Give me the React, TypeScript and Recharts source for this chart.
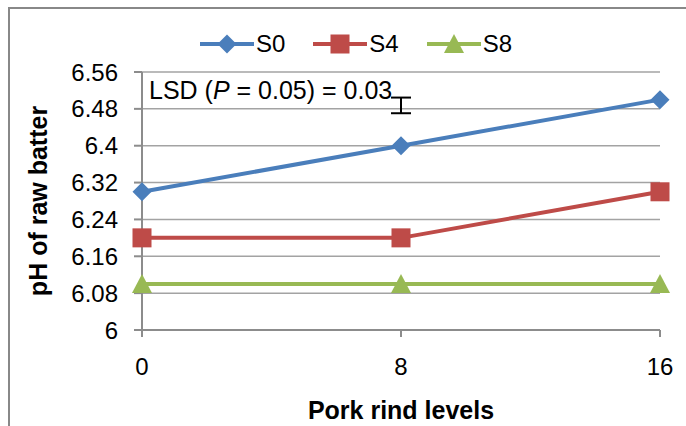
import React from "react";
import {
  CartesianGrid,
  ComposedChart,
  ErrorBar,
  Label,
  Line,
  Scatter,
  XAxis,
  YAxis,
} from "recharts";

const rindLevels = [0, 8, 16];
const s0 = [6.3, 6.4, 6.5];
const s4 = [6.2, 6.2, 6.3];
const s8 = [6.1, 6.1, 6.1];
const yTicks = [6, 6.08, 6.16, 6.24, 6.32, 6.4, 6.48, 6.56];
const lsdBar = [{ x: 8, y: 6.4875, err: 0.017 }];

const FONT = "'Liberation Sans', Arial, sans-serif";

const series = [
  { key: "s0", name: "S0", color: "#4A7EBB", marker: "diamond" },
  { key: "s4", name: "S4", color: "#BE4B48", marker: "square" },
  { key: "s8", name: "S8", color: "#98B954", marker: "triangle" },
];

const data = rindLevels.map((x, i) => ({ x, s0: s0[i], s4: s4[i], s8: s8[i] }));

function Marker({ cx, cy, kind, color }) {
  if (cx == null || cy == null) return null;
  if (kind === "diamond") {
    return <path d={`M${cx},${cy - 9.5}L${cx + 9.5},${cy}L${cx},${cy + 9.5}L${cx - 9.5},${cy}Z`} fill={color} />;
  }
  if (kind === "square") {
    return <rect x={cx - 9.5} y={cy - 9.5} width={19} height={19} fill={color} />;
  }
  return <path d={`M${cx},${cy - 10}L${cx + 10},${cy + 9}L${cx - 10},${cy + 9}Z`} fill={color} />;
}

function LegendRow() {
  return (
    <div style={{ position: "absolute", top: 32, left: 200, display: "flex", fontFamily: FONT, fontSize: 24 }}>
      {series.map((s) => (
        <div key={s.key} style={{ display: "flex", alignItems: "center", marginRight: 28 }}>
          <svg width={56} height={24}>
            <line x1={0} y1={12} x2={54} y2={12} stroke={s.color} strokeWidth={4} />
            <Marker cx={27} cy={12} kind={s.marker} color={s.color} />
          </svg>
          <span style={{ lineHeight: "24px" }}>{s.name}</span>
        </div>
      ))}
    </div>
  );
}

export default function App() {
  return (
    <div style={{ position: "absolute", left: 0, top: 0, width: 686, height: 426, background: "#fff", overflow: "hidden" }}>
      <div
        style={{
          position: "absolute",
          left: 8,
          top: 7,
          width: 720,
          height: 460,
          border: "2px solid #888",
          boxSizing: "border-box",
        }}
      />
      <ComposedChart
        width={686}
        height={426}
        data={data}
        margin={{ top: 72, right: 26, left: 0, bottom: 0 }}
        style={{ position: "absolute", left: 0, top: 0, fontFamily: FONT }}
      >
        <CartesianGrid vertical={false} stroke="#a3a3a3" strokeWidth={1.5} />
        <XAxis
          type="number"
          dataKey="x"
          domain={[0, 16]}
          ticks={rindLevels}
          height={96}
          tickSize={7}
          tickMargin={21}
          axisLine={{ stroke: "#8c8c8c", strokeWidth: 2 }}
          tickLine={{ stroke: "#8c8c8c", strokeWidth: 2 }}
          tick={{ fill: "#000", fontSize: 24 }}
        >
          <Label
            value="Pork rind levels"
            position="insideBottom"
            offset={7}
            style={{ fontSize: 25, fontWeight: "bold", fill: "#000" }}
          />
        </XAxis>
        <YAxis
          type="number"
          domain={[6, 6.56]}
          ticks={yTicks}
          width={142}
          tickSize={8}
          tickMargin={16}
          axisLine={{ stroke: "#8c8c8c", strokeWidth: 2 }}
          tickLine={{ stroke: "#8c8c8c", strokeWidth: 2 }}
          tick={{ fill: "#000", fontSize: 24 }}
        >
          <Label
            content={({ viewBox }) => {
              const vb = viewBox as any;
              const cx = 47;
              const cy = vb.y + vb.height / 2;
              return (
                <text
                  x={cx}
                  y={cy}
                  transform={`rotate(-90, ${cx}, ${cy})`}
                  textAnchor="middle"
                  style={{ fontSize: 25, fontWeight: "bold", fill: "#000" }}
                >
                  pH of raw batter
                </text>
              );
            }}
          />
        </YAxis>
        {series.map((s) => (
          <Line
            key={s.key}
            type="linear"
            dataKey={s.key}
            name={s.name}
            stroke={s.color}
            strokeWidth={4}
            isAnimationActive={false}
            dot={(p: any) => <Marker key={`${s.key}-${p.index}`} cx={p.cx} cy={p.cy} kind={s.marker} color={s.color} />}
            activeDot={false}
          />
        ))}
        <Scatter data={lsdBar} dataKey="y" isAnimationActive={false} shape={() => <g />}>
          <ErrorBar dataKey="err" direction="y" width={10} stroke="#000" strokeWidth={2} isAnimationActive={false} />
        </Scatter>
      </ComposedChart>
      <div style={{ position: "absolute", left: 149, top: 76, fontFamily: FONT, fontSize: 25, color: "#000", whiteSpace: "nowrap" }}>
        LSD (<i>P</i> = 0.05) = 0.03
      </div>
      <LegendRow />
    </div>
  );
}
